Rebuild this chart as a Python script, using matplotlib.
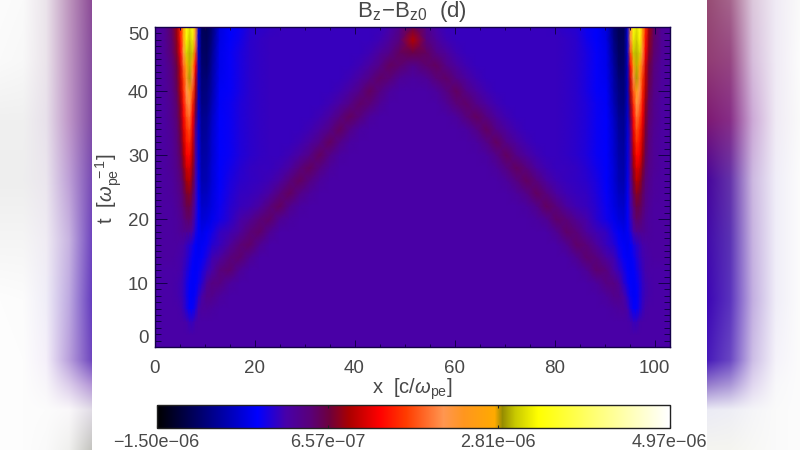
import matplotlib
matplotlib.use('Agg')
import matplotlib.pyplot as plt
import numpy as np
from matplotlib.colors import LinearSegmentedColormap
from matplotlib.ticker import MultipleLocator

plt.rcParams['font.family'] = ['Liberation Sans', 'DejaVu Sans']
plt.rcParams['mathtext.fontset'] = 'custom'
plt.rcParams['mathtext.rm'] = 'Liberation Sans'
plt.rcParams['mathtext.it'] = 'Liberation Sans:italic'
plt.rcParams['mathtext.fallback'] = 'stixsans'

vmin = -1.50e-06
vmax = 4.97e-06
cbar_ticks = [-1.50e-06, 6.57e-07, 2.81e-06, 4.97e-06]
cbar_labels = ['\u22121.50e\u221206', '6.57e\u221207', '2.81e\u221206', '4.97e\u221206']
x_ticks = [0, 20, 40, 60, 80, 100]
t_ticks = [0, 10, 20, 30, 40, 50]

# colour table (position, rgb)
cmap_pos = [0, 0.085, 0.196, 0.252, 0.30, 0.337, 0.375, 0.435, 0.487, 0.56, 0.60, 0.66, 0.675, 0.70, 0.745, 0.86, 1]
cmap_rgb = ['#000000', '#00006e', '#0000ff', '#4800a8', '#5a0078', '#6e003c', '#aa0000', '#ff0000', '#ff3c00',
            '#ff9650', '#ff961e', '#ffaa00', '#968c00', '#c8c800', '#ffff00', '#ffff78', '#ffffff']

# values are percent of the colour bar range
x_left = [0, 2, 3.5, 4.5, 5.2, 5.8, 6.4, 7, 7.6, 8.2, 8.8, 9.5, 10.5, 11.5, 13, 15, 17, 19, 21, 23, 25, 27, 29, 31,
          33, 35, 37, 39, 41, 43, 45, 47, 49, 51.7]
t_rows = [0, 2, 4, 6, 8, 10, 12, 14, 16, 18, 20, 22, 24, 26, 28, 30, 32, 34, 36, 38, 40, 42, 44, 46, 48, 50]
field_left = [
    [25.5]*34,
    [25.5]*34,
    [25.5]*6 + [25, 24, 24, 25] + [25.5]*24,
    [25.5, 25.5, 25.5, 25.5, 25, 24, 22, 20, 20, 22, 25, 26.5, 26.5, 26] + [25.5]*20,
    [25.5, 25.5, 25.5, 25, 24.5, 23.5, 21.5, 19.5, 19, 20.5, 23, 25.5, 28, 28, 26.5] + [25.5]*19,
    [25.5, 25.5, 25.5, 25, 24.5, 23.5, 21.5, 20, 19, 19.5, 21, 23, 27, 29, 29, 26.5] + [25.5]*18,
    [25.5, 25.5, 25.5, 25.5, 25, 24, 22.5, 21, 19.5, 19, 20, 21.5, 24, 25.5, 29.5, 30.5, 27] + [25.5]*17,
    [26, 26, 26, 25.5, 25, 24.5, 23.5, 22, 20.5, 19, 19, 20, 22, 24.5, 26, 29.5, 30.5, 27.5] + [25.5]*16,
    [26, 26, 26, 26, 25.5, 25, 24, 23, 21.5, 19.5, 18.5, 19, 20.5, 22.5, 24, 26.5, 30, 31, 27.5] + [25.5]*15,
    [26, 26, 26, 26.5, 27, 27.5, 27.5, 27, 25, 22, 19, 18, 19, 21, 23.5, 24.5, 26.5, 30, 31, 27.5] + [25.5]*14,
    [26, 26, 26, 26.5, 27.5, 29, 30.5, 31, 28, 23.5, 19, 16.5, 17, 18.5, 21, 23, 25, 27, 30, 31, 27.5, 26] + [25.5]*12,
    [26, 26, 26, 27, 28.5, 30.5, 32.5, 33, 30, 24.5, 19, 15.5, 16, 17.5, 20.5, 22.5, 24, 24.5, 26, 29.5, 31.5, 28, 26] + [25.5]*11,
    [26, 26, 26.5, 27.5, 29, 31.5, 34.5, 35.5, 32, 25, 18.5, 14.5, 15, 17, 20, 22, 23.5, 24, 24.5, 26, 29.5, 31.5, 28.5, 26.5] + [25.5]*10,
    [26, 26, 26.5, 28, 30, 33, 37, 38.5, 34, 26, 18, 13.5, 14, 16.5, 19.5, 21.5, 23, 23.5, 24, 24.5, 26, 29.5, 31.5, 29, 26.5] + [25.5]*9,
    [26, 26, 27, 28.5, 31, 35, 40, 41, 36, 27, 17.5, 13, 13.5, 16.5, 19.5, 21, 22.5, 23.5, 24, 24, 24.5, 26, 29.5, 31.5, 29, 26.5] + [25.5]*8,
    [26, 26, 27, 29, 32, 37, 43, 44, 38, 27.5, 17, 12.5, 13, 16, 19.5, 20.5, 22, 23, 23.5, 24, 24, 24.5, 26, 28.5, 31.5, 28.5, 26] + [25.5]*7,
    [26, 26, 27, 29.5, 33, 39, 45, 47, 40, 28, 17, 12, 12.5, 16, 19.5, 20.5, 22, 23, 23.5, 24, 24, 24, 24.5, 26, 28.5, 31.5, 28.5, 26] + [25.5]*6,
    [26, 26, 27.5, 30, 34, 41, 47, 50, 42, 29, 16.5, 11.5, 12, 15.5, 19.5, 20.5, 22, 23, 23.5, 24, 24, 24, 24, 24.5, 26, 28.5, 31.5, 28.5, 26] + [25.5]*5,
    [26, 26, 28, 30.5, 35, 43, 50, 53, 44, 33, 16, 11, 11.5, 15, 19.5, 20.5, 22, 23, 23.5, 24, 24, 24, 24, 24, 24.5, 26, 29, 31.5, 29.5, 26.5] + [25.5]*4,
    [26, 26, 28, 31, 36, 45, 53, 57, 47, 35, 15.5, 10, 10.5, 14, 19, 20.5, 22, 23, 23.5, 24, 24, 24, 24, 24, 24, 24.5, 26, 28.5, 31, 30, 27] + [25.5]*3,
    [26, 26.5, 28.5, 32, 38, 47, 56, 61, 51, 38, 15, 9.5, 10, 13, 19, 20, 21.5, 23, 23.5, 24, 24, 24, 24, 24, 24, 24, 24.5, 26, 28.5, 31.5, 29, 26.5, 25.5, 25.5],
    [26, 26.5, 29, 33, 39, 49, 59, 67, 55, 40, 15, 9, 9, 12.5, 18.5, 20, 21.5, 23, 23.5, 24, 24, 24, 24, 24, 24, 24, 24, 24.5, 26, 28.5, 31, 30, 27, 26],
    [26, 26.5, 29.5, 33.5, 40, 52, 65, 69, 62, 44, 15, 8.5, 8, 12, 18, 20, 21.5, 23, 23.5, 24, 24, 24, 24, 24, 24, 24, 24, 24, 24.5, 26, 28.5, 31.5, 30.5, 28],
    [26, 27, 30.5, 35, 43, 58, 71, 69, 70, 50, 15.5, 8, 7.5, 11, 18, 20, 21.5, 23, 23.5, 24, 24, 24, 24, 24, 24, 24, 24, 24, 24, 24.5, 26.5, 28.5, 31.5, 33],
    [26, 27, 31, 36, 45, 62, 74, 70, 73, 55, 16, 7.5, 7, 10, 17.5, 19.5, 21, 23, 23.5, 24, 24, 24, 24, 24, 24, 24, 24, 24, 24, 24, 24.5, 26.5, 29.5, 38],
    [26, 27, 31.5, 37, 47, 66, 76, 72, 76, 60, 16.5, 7, 6.5, 9, 17, 19.5, 20.5, 22.5, 23, 23.5, 24, 24, 24, 24, 24, 24, 24, 24, 24, 24, 24, 25, 28, 33],
]

# blurred side strips, rgb by y row and x column
left_x = [0, 23, 46, 69, 92]
right_x = [707, 730, 753, 776, 800]
strip_y = [0, 60, 120, 180, 240, 300, 360, 385, 410, 450]
left_strip = [
    [(252, 252, 252), (250, 250, 250), (235, 228, 235), (190, 150, 190), (140, 75, 150)],
    [(250, 250, 250), (248, 248, 248), (235, 228, 235), (190, 150, 195), (135, 78, 158)],
    [(240, 240, 240), (240, 240, 240), (232, 225, 235), (190, 150, 200), (130, 78, 165)],
    [(238, 238, 238), (238, 238, 238), (235, 230, 238), (190, 160, 215), (120, 75, 180)],
    [(245, 245, 245), (245, 245, 245), (240, 236, 244), (200, 180, 225), (110, 68, 190)],
    [(253, 253, 253), (252, 252, 252), (240, 238, 248), (190, 170, 225), (100, 60, 190)],
    [(254, 254, 254), (253, 253, 253), (245, 240, 250), (185, 160, 220), (110, 70, 190)],
    [(254, 254, 254), (253, 253, 253), (248, 246, 250), (220, 205, 235), (180, 150, 215)],
    [(254, 254, 254), (253, 253, 253), (252, 252, 252), (250, 248, 250), (225, 220, 230)],
    [(254, 254, 254), (253, 253, 253), (250, 250, 250), (240, 240, 238), (195, 195, 190)],
]
right_strip = [
    [(150, 75, 115), (165, 100, 140), (220, 200, 220), (240, 235, 245), (250, 250, 250)],
    [(145, 60, 115), (150, 70, 130), (215, 190, 220), (240, 235, 245), (252, 252, 252)],
    [(125, 25, 115), (135, 45, 135), (205, 170, 215), (240, 235, 245), (250, 250, 250)],
    [(70, 5, 155), (100, 50, 170), (205, 185, 225), (240, 238, 248), (252, 252, 252)],
    [(65, 10, 170), (90, 50, 180), (200, 180, 225), (240, 238, 248), (252, 252, 252)],
    [(60, 5, 180), (90, 50, 190), (195, 175, 225), (240, 238, 248), (252, 252, 252)],
    [(70, 25, 185), (105, 70, 195), (205, 190, 230), (245, 243, 250), (252, 252, 252)],
    [(150, 125, 205), (170, 150, 215), (225, 215, 240), (248, 248, 250), (252, 252, 252)],
    [(235, 235, 245), (238, 238, 245), (245, 245, 248), (250, 250, 250), (252, 252, 252)],
    [(245, 245, 240), (245, 245, 240), (248, 248, 245), (250, 250, 250), (252, 252, 252)],
]

text_color = '#484848'
frame_color = '#14004a'


def px_axes(fig, left, top, right, bottom):
    return fig.add_axes([left / 800, 1 - bottom / 450, (right - left) / 800, (bottom - top) / 450])


def draw_strip(fig, table, xs, left, right):
    table = np.array(table, dtype=float)
    px_x = np.arange(left, right) + 0.5
    px_y = np.arange(450) + 0.5
    rows = np.array([[np.interp(px_x, xs, row[:, c]) for c in range(3)] for row in table])
    img = np.array([[np.interp(px_y, strip_y, rows[:, c, i]) for c in range(3)] for i in range(len(px_x))])
    img = img.transpose(2, 0, 1).astype(np.uint8)
    ax = px_axes(fig, left, 0, right, 450)
    ax.imshow(img, aspect='auto', interpolation='nearest')
    ax.axis('off')
    ax.set_zorder(10)


def main():
    fig = plt.figure(figsize=(8, 4.5), dpi=100, facecolor='white')
    cmap = LinearSegmentedColormap.from_list('idl', list(zip(cmap_pos, cmap_rgb)), N=512)

    left = np.array(field_left) / 100.0 * (vmax - vmin) + vmin
    x = np.array(x_left)
    x_all = np.concatenate([x, 103.4 - x[-2::-1]])
    field = np.hstack([left, left[:, -2::-1]])

    ax = px_axes(fig, 154.5, 27, 669.5, 347)
    mesh = ax.pcolormesh(x_all, t_rows, field, shading='gouraud', cmap=cmap, vmin=vmin, vmax=vmax)
    ax.set_xlim(0, 103)
    ax.set_ylim(0, 50)
    ax.set_xticks(x_ticks)
    ax.set_yticks(t_ticks)
    ax.xaxis.set_minor_locator(MultipleLocator(5))
    ax.yaxis.set_minor_locator(MultipleLocator(1))
    ax.tick_params(which='both', direction='in', top=True, right=True, color=frame_color, width=0.7,
                   labelcolor=text_color, labelsize=13.5)
    ax.tick_params(axis='x', which='major', length=5, pad=9.5)
    ax.tick_params(axis='x', which='minor', length=2.5)
    ax.tick_params(axis='y', which='major', length=8.5, pad=4)
    ax.tick_params(axis='y', which='minor', length=4.3)
    labels = ax.get_yticklabels()
    labels[0].set_va('bottom')
    labels[-1].set_va('top')
    for s in ax.spines.values():
        s.set_color(frame_color)
        s.set_linewidth(1.0)

    fig.text(412 / 800, 1 - 11 / 450, r'$\mathrm{B_z\!-\!B_{z0}}$  (d)', ha='center', va='center',
             fontsize=16, color=text_color)
    fig.text(412 / 800, 1 - 389 / 450, r'x  [c/$\omega_{\mathrm{pe}}$]', ha='center', va='center',
             fontsize=14.5, color=text_color)
    fig.text(109 / 800, 1 - 189 / 450, r't  [$\omega_{\mathrm{pe}}^{\ -1}$]', ha='center', va='center',
             rotation=90, fontsize=14.5, color=text_color)

    cax = px_axes(fig, 156.5, 405, 669.5, 428)
    cbar = fig.colorbar(mesh, cax=cax, orientation='horizontal')
    cbar.set_ticks(cbar_ticks, labels=cbar_labels)
    cax.tick_params(direction='in', length=2.5, width=0.8, color='#222222', top=True, pad=4,
                    labelcolor=text_color, labelsize=13)
    cbar.outline.set_edgecolor('#222222')
    cbar.outline.set_linewidth(1.0)

    draw_strip(fig, left_strip, left_x, 0, 92)
    draw_strip(fig, right_strip, right_x, 707, 800)

    fig.savefig('out.png', dpi=100)


if __name__ == "__main__":
    main()
